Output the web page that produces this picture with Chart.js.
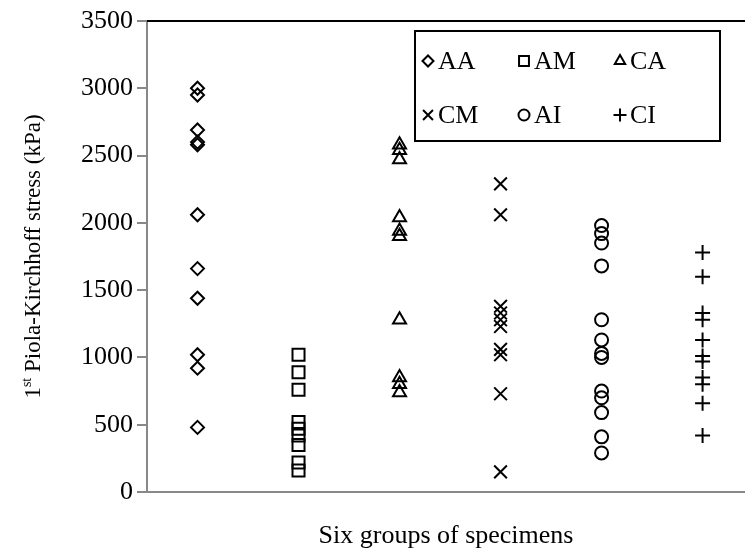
<!DOCTYPE html>
<html>
<head>
<meta charset="utf-8">
<title>Six groups of specimens - stress</title>
<script src="https://cdn.jsdelivr.net/npm/chart.js@4.4.0/dist/chart.umd.min.js"></script>
<style>
  html, body { margin: 0; padding: 0; background: #fff; }
</style>
</head>
<body>
<canvas id="myChart" width="745" height="559"></canvas>

<!-- data -->
<script>
const groups = ['AA', 'AM', 'CA', 'CM', 'AI', 'CI'];
const groupPos = [0.5, 1.5, 2.5, 3.5, 4.5, 5.5];

const aaStress = [3000, 2950, 2690, 2600, 2580, 2060, 1660, 1440, 1020, 920, 480];
const amStress = [1020, 890, 760, 520, 470, 420, 350, 220, 160];
const caStress = [2580, 2540, 2470, 2040, 1940, 1900, 1280, 850, 800, 740];
const cmStress = [2290, 2060, 1380, 1330, 1280, 1230, 1060, 1020, 730, 150];
const aiStress = [1980, 1920, 1850, 1680, 1280, 1130, 1030, 1000, 750, 700, 590, 410, 290];
const ciStress = [1780, 1600, 1330, 1280, 1130, 1010, 970, 850, 800, 660, 420];

const yTicks = [0, 500, 1000, 1500, 2000, 2500, 3000, 3500];
</script>

<script>
const SERIF = "'Liberation Serif', 'Times New Roman', serif";
const allStress = [aaStress, amStress, caStress, cmStress, aiStress, ciStress];
const styles = ['rectRot', 'rect', 'triangle', 'crossRot', 'circle', 'cross'];
const radii = [6.5, 8.5, 7.5, 9, 6.5, 7.5];
const legendRadii = [5.5, 7, 6, 7, 5.5, 6.5];

const datasets = groups.map((g, i) => ({
    label: g,
    data: allStress[i].map(v => ({ x: groupPos[i], y: v })),
    pointStyle: styles[i],
    pointRadius: radii[i],
    pointBorderWidth: 2,
    pointBorderColor: '#000',
    pointBackgroundColor: 'rgba(0,0,0,0)',
    showLine: false
}));

// y title with superscript "st"
const yTitlePlugin = {
    id: 'yTitle',
    afterDraw(chart) {
        const ctx = chart.ctx, a = chart.chartArea;
        const big = "23px " + SERIF, small = "14px " + SERIF;
        const parts = [['1', big, 0], ['st', small, -7], [' Piola-Kirchhoff stress (kPa)', big, 0]];
        ctx.save();
        let total = 0;
        parts.forEach(p => { ctx.font = p[1]; total += ctx.measureText(p[0]).width; });
        ctx.translate(33, (a.top + a.bottom) / 2);
        ctx.rotate(-Math.PI / 2);
        ctx.fillStyle = '#000';
        ctx.textBaseline = 'middle';
        let x = -total / 2;
        parts.forEach(p => {
            ctx.font = p[1];
            ctx.fillText(p[0], x, p[2] + 1);
            x += ctx.measureText(p[0]).width;
        });
        ctx.restore();
    }
};

// black top frame line
const topLinePlugin = {
    id: 'topLine',
    afterDraw(chart) {
        const ctx = chart.ctx, a = chart.chartArea;
        ctx.save();
        ctx.strokeStyle = '#000';
        ctx.lineWidth = 2;
        ctx.beginPath();
        ctx.moveTo(a.left, a.top);
        ctx.lineTo(a.right, a.top);
        ctx.stroke();
        ctx.restore();
    }
};

// boxed legend, 3 columns x 2 rows
const boxLegendPlugin = {
    id: 'boxLegend',
    afterDraw(chart) {
        const ctx = chart.ctx;
        const box = { x: 415, y: 31, w: 305, h: 110 };
        const colX = [428, 524, 620];
        const rowY = [61, 115];
        ctx.save();
        ctx.strokeStyle = '#000';
        ctx.lineWidth = 2;
        ctx.strokeRect(box.x, box.y, box.w, box.h);
        ctx.font = "26px " + SERIF;
        ctx.textBaseline = 'middle';
        chart.data.datasets.forEach((ds, i) => {
            const cx = colX[i % 3], cy = rowY[Math.floor(i / 3)];
            ctx.strokeStyle = '#000';
            ctx.fillStyle = 'rgba(0,0,0,0)';
            ctx.lineWidth = 2;
            Chart.helpers.drawPoint(ctx, {
                pointStyle: ds.pointStyle, radius: legendRadii[i], rotation: 0, borderWidth: 2
            }, cx, cy);
            ctx.fillStyle = '#000';
            ctx.fillText(ds.label, cx + 10, cy + 1);
        });
        ctx.restore();
    }
};

new Chart(document.getElementById('myChart'), {
    type: 'scatter',
    data: { datasets: datasets },
    options: {
        responsive: false,
        animation: false,
        devicePixelRatio: 1,
        layout: { autoPadding: false, padding: { top: 21, right: 0, left: 0, bottom: 0 } },
        plugins: {
            legend: { display: false },
            tooltip: { enabled: false }
        },
        scales: {
            x: {
                type: 'linear',
                min: 0,
                max: 5.92,
                ticks: { display: false },
                grid: { display: false },
                border: { display: true, color: '#888', width: 2 },
                title: {
                    display: true,
                    text: 'Six groups of specimens',
                    color: '#000',
                    font: { family: SERIF, size: 26 },
                    padding: { top: 0, bottom: 7 }
                },
                afterFit(scale) { scale.height = 67; }
            },
            y: {
                min: 0,
                max: 3500,
                afterBuildTicks(scale) { scale.ticks = yTicks.map(v => ({ value: v })); },
                ticks: {
                    color: '#000',
                    padding: 4,
                    font: { family: SERIF, size: 26 },
                    callback: v => String(v)
                },
                grid: {
                    display: true,
                    drawOnChartArea: false,
                    drawTicks: true,
                    tickLength: 10,
                    color: '#888',
                    lineWidth: 2
                },
                border: { display: true, color: '#888', width: 2 },
                afterFit(scale) { scale.width = 147; }
            }
        }
    },
    plugins: [yTitlePlugin, topLinePlugin, boxLegendPlugin]
});
</script>
</body>
</html>
